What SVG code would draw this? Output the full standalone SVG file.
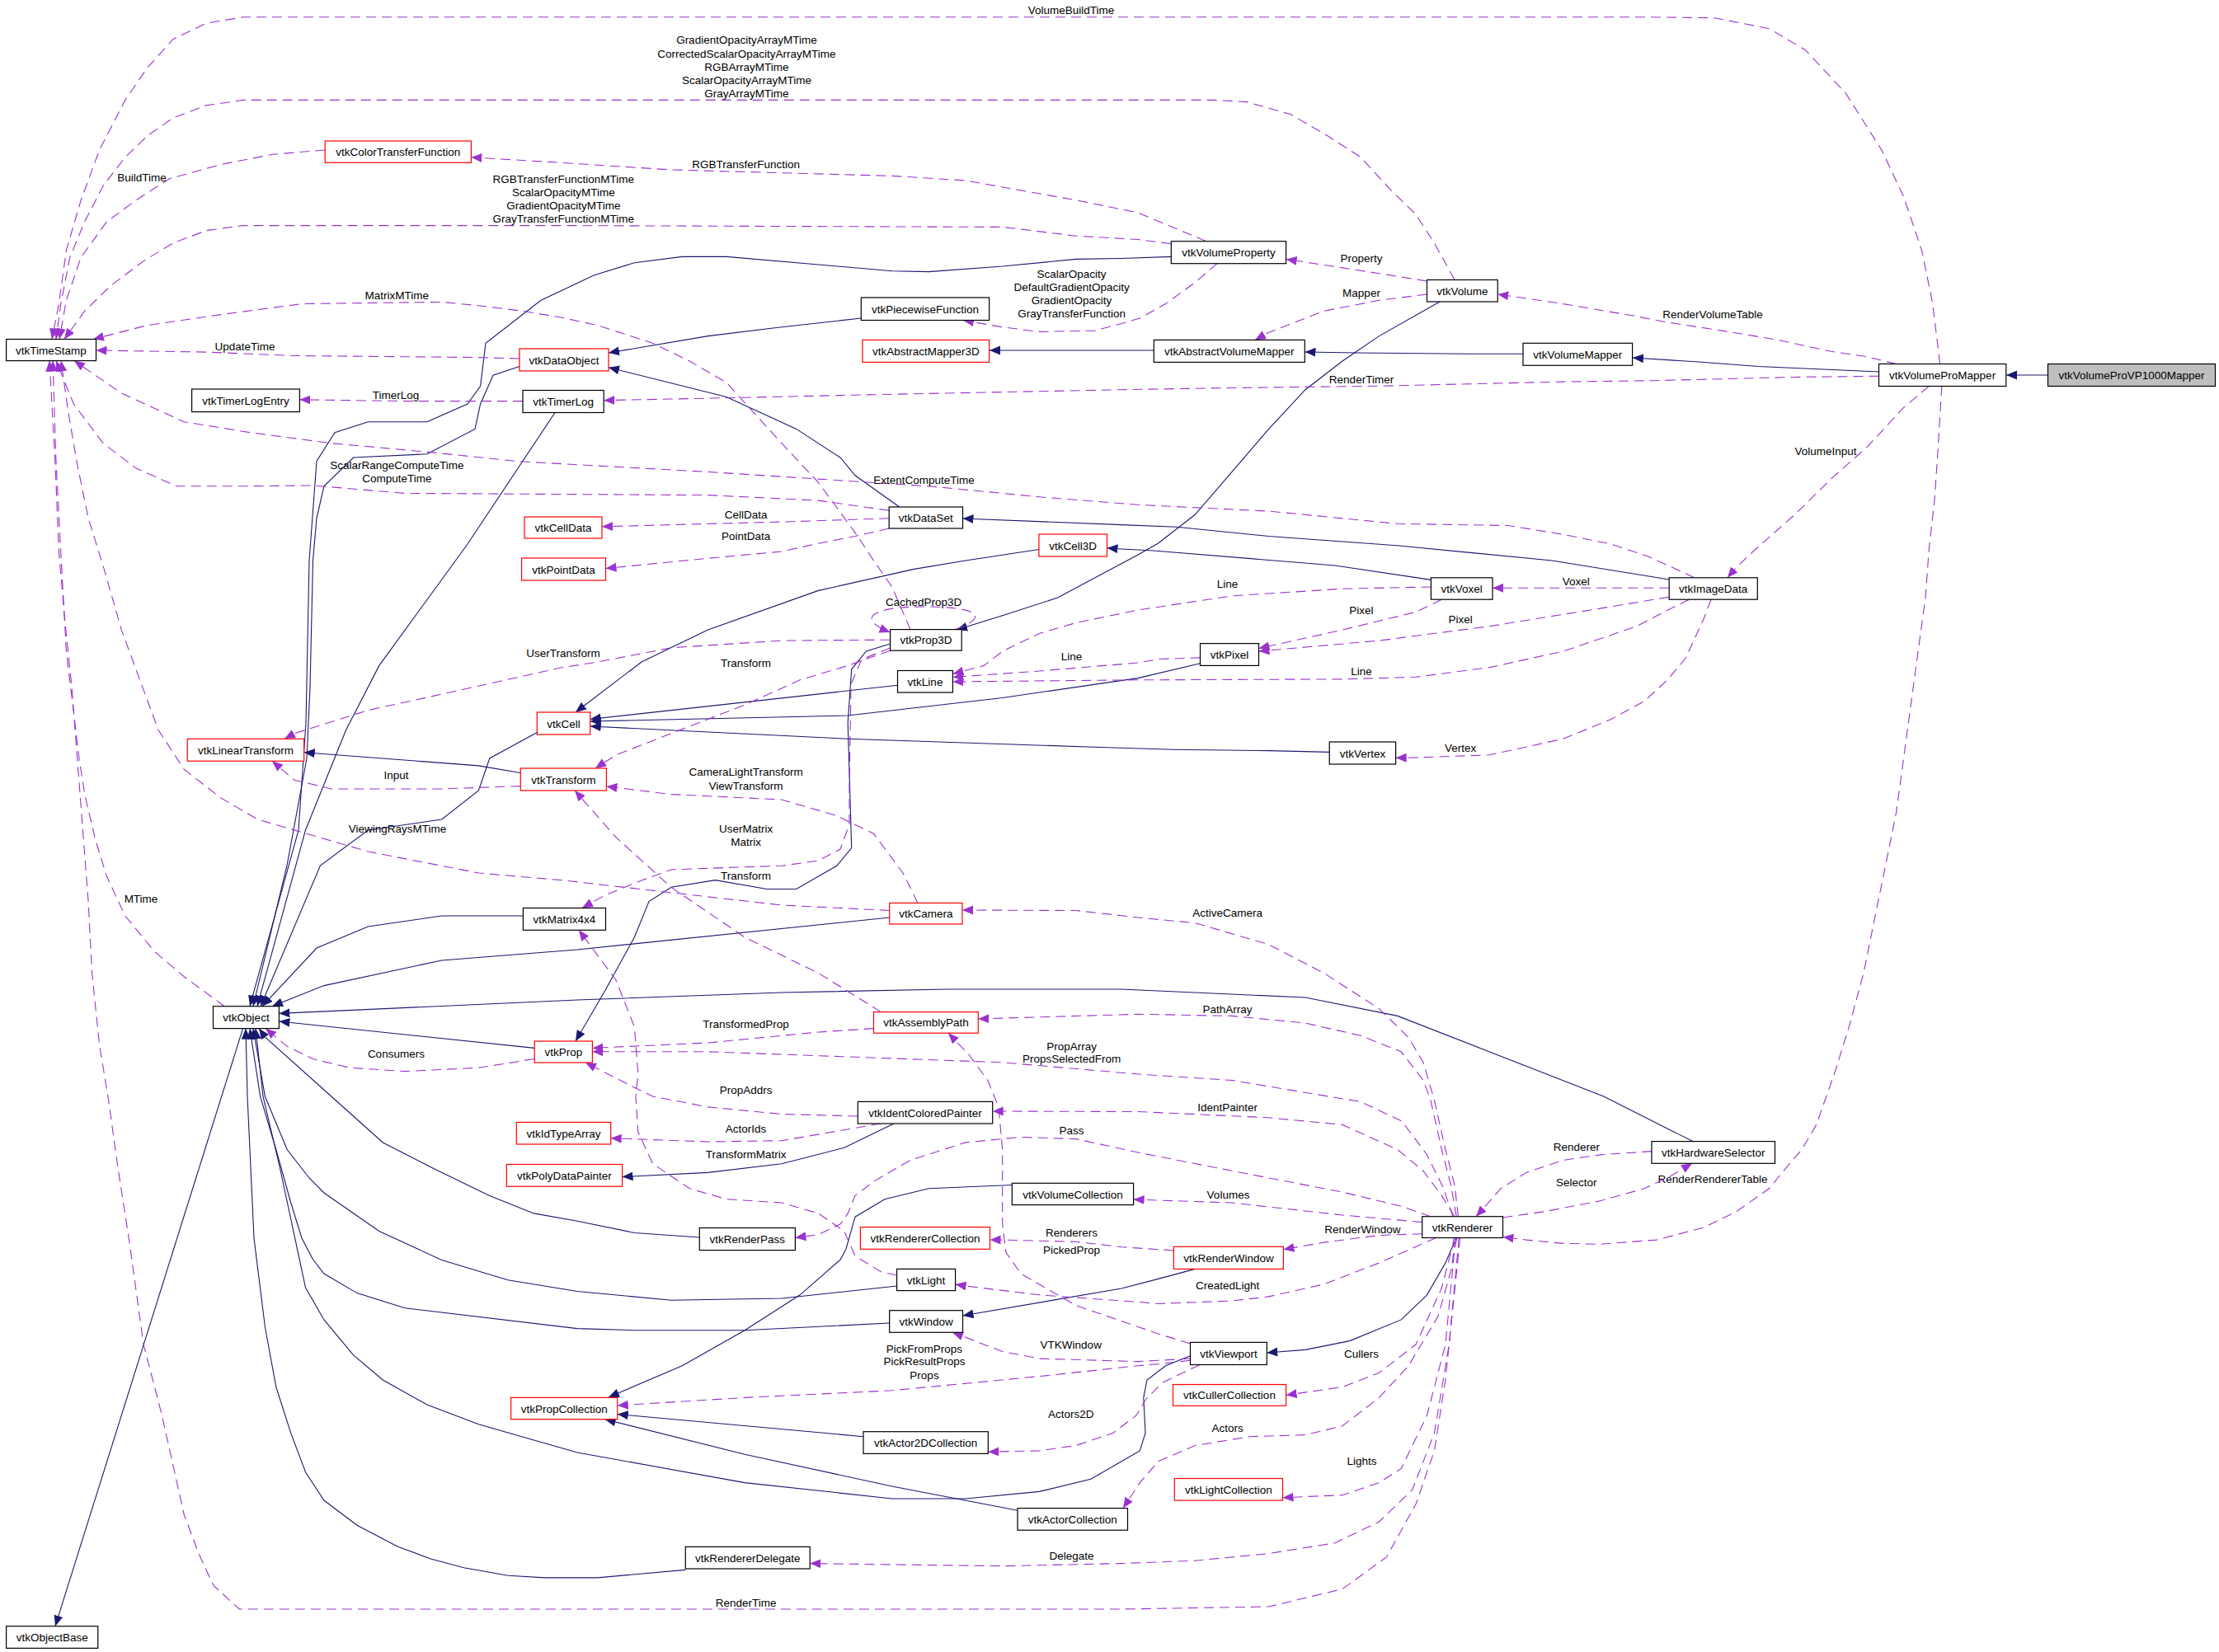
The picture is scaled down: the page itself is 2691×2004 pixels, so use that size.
<svg xmlns="http://www.w3.org/2000/svg" width="2691" height="2004" viewBox="0 0 2691 2004">
<defs>
<style>
.n rect{fill:#fff;stroke:#000;stroke-width:1.2}
.n.r rect{stroke:#f00}
.n.g rect{fill:#bfbfbf}
text{font-family:"Liberation Sans",Arial,Helvetica,sans-serif;font-size:13.5px;fill:#000;text-anchor:middle}
.i{fill:none;stroke:#191970;stroke-width:1.1;marker-end:url(#ai)}
.u{fill:none;stroke:#9a32cd;stroke-width:1.1;stroke-dasharray:12,7;marker-end:url(#au)}
</style>
<marker id="ai" markerUnits="userSpaceOnUse" markerWidth="14" markerHeight="12" refX="13" refY="5.5" orient="auto"><path d="M0,0 L13,5.5 L0,11 Z" fill="#191970"/></marker>
<marker id="au" markerUnits="userSpaceOnUse" markerWidth="14" markerHeight="12" refX="13" refY="5.5" orient="auto"><path d="M0,0 L13,5.5 L0,11 Z" fill="#9a32cd"/></marker>
</defs>
<rect x="0" y="0" width="2691" height="2004" fill="#fff"/>
<g id="edges">
<!-- inheritance -->
<path class="i" d="M2483.5,455 L2433,455"/>
<path class="i" d="M2278.5,451 L2132,444.5 L2060,439 L1980,434"/>
<path class="i" d="M1847,429.3 L1788.6,429.3 L1645.7,428 L1582.5,427"/>
<path class="i" d="M1399.3,425 L1200,425"/>
<path class="i" d="M1746,366 L1672.5,407.6 L1628,438 L1583,472.7 L1538.6,520.4 L1494,572.4 L1449,624.5 L1404.6,659 L1380,673 L1282.7,725 L1215.7,746.7 L1160,764"/>
<path class="i" d="M1420.3,311.4 L1360,313.5 L1305,314.4 L1215.7,323 L1126.4,329.6 L1081.8,328.7 L992.5,321 L881,311.4 L827.3,311.4 L769.3,318.7 L720,334 L680,353 L656,364.3 L589,416.3 L582.6,468.3 L567,490 L517.9,511.7 L446.4,511.7 L406,524.7 L384,559.4 L375,680 L371,876.8 L362,1007 L303,1220.7"/>
<path class="i" d="M630,444.5 L598,455.3 L582.6,490 L576,520.4 L517.9,550.7 L428.6,555 L392.9,589.8 L384,628.8 L379.5,680 L376,833.5 L372,920 L348,1050 L307,1220.7"/>
<path class="i" d="M673,500.5 L567,660 L459.8,807.4 L419.6,885.5 L370.5,1007 L312,1220.7"/>
<path class="i" d="M1044.3,386 L947.9,396.8 L858.6,407.6 L738,428"/>
<path class="i" d="M1090.7,615 L1037,576.8 L1019,555 L965.7,520.4 L880.9,481.4 L738,445.8"/>
<path class="i" d="M2024.2,703 L1882,680 L1697,662 L1538.6,650.5 L1427,639.2 L1360,636.6 L1167.5,629"/>
<path class="i" d="M1735.4,703.4 L1619,686 L1395.7,667.8 L1360,666 L1342.5,664.8"/>
<path class="i" d="M1260,666.5 L1171,680 L1108.6,690.4 L992.5,716.4 L858.6,764 L778,803 L698,864"/>
<path class="i" d="M1088.5,831.3 L715.7,872.5"/>
<path class="i" d="M1455.5,804.8 L1380,822.6 L1215.7,846.5 L1028,868 L715.7,875"/>
<path class="i" d="M1612.2,912.4 L1538.6,910.6 L1422.5,909.3 L1327,906.3 L1028,896.3 L715.7,881"/>
<path class="i" d="M651.3,888.5 L593.75,920 L580.4,959 L535.7,994 L446.4,1007 L388.4,1050 L316,1220.7"/>
<path class="i" d="M1079.6,781 L1050.5,790 L1032.7,811.8 L1028.2,876.8 L1032.7,1028.6 L1014.8,1050.3 L965.7,1078.5 L930,1078.5 L867.5,1067.6 L814,1076.3 L787,1093.6 L769.3,1137 L733.6,1202 L698,1263"/>
<path class="i" d="M631.25,937.5 L580.4,928.9 L368.75,912.8"/>
<path class="i" d="M634.4,1111 L535.7,1111 L446.4,1124 L384,1150 L318,1220.7"/>
<path class="i" d="M1078.7,1113 L700,1152 L535.7,1165 L392.9,1195.6 L330,1220.7"/>
<path class="i" d="M2053,1384.6 L1944.8,1330 L1694.8,1232.4 L1583,1210 L1360,1200 L1148.75,1200 L947.9,1204 L700,1213 L338.4,1229.4"/>
<path class="i" d="M648.2,1271.4 L338.4,1239"/>
<path class="i" d="M1084,1363 L1023.75,1392.3 L947.9,1411.7 L858.6,1422.4 L754.6,1427.6"/>
<path class="i" d="M848.3,1501 L769.3,1495.5 L700,1481.3 L647.3,1471.9 L593.75,1450.4 L526.8,1418 L464.3,1386 L401.8,1330 L321.4,1258 L314,1247.6"/>
<path class="i" d="M1087.6,1560 L947.9,1575 L813.9,1577.2 L700,1566.5 L616,1552.7 L535.7,1528.6 L459.8,1493.4 L392.9,1447 L375,1429 L348.2,1394.5 L321.4,1330 L307,1247.6"/>
<path class="i" d="M1078.7,1605 L903.2,1613.7 L769.3,1613.7 L700,1611.6 L491,1586.7 L433,1568.6 L392.9,1545 L379.5,1527.8 L366,1502 L352.7,1459 L334.8,1394.5 L315.6,1330 L303,1247.6"/>
<path class="i" d="M1449.3,1539.4 L1404.6,1551.4 L1360,1563 L1167.5,1596"/>
<path class="i" d="M1443.5,1644.7 L1413.6,1656.7 L1391,1674 L1386.8,1695.4 L1389,1738.4 L1382.3,1760 L1360,1772.8 L1322.9,1794.3 L1260.4,1809.4 L1171,1818 L1081.8,1818 L903.2,1798.6 L700,1762 L580.4,1727.7 L517.9,1704 L464.3,1674 L428.6,1643.8 L392.9,1600.9 L370.5,1562 L339.3,1416 L319,1330 L310,1247.6"/>
<path class="i" d="M1227.3,1437.5 L1126.4,1441.8 L1072.9,1454.7 L1037,1476.2 L1026,1515 L1019.3,1527.8 L970.2,1570.8 L903.2,1613.7 L827.3,1656.7 L738,1695"/>
<path class="i" d="M1047,1742.7 L748.75,1715.6"/>
<path class="i" d="M1234,1832.2 L1081.8,1803 L903.2,1764.2 L733.6,1721.7"/>
<path class="i" d="M1766.25,1501.5 L1752.9,1532 L1730.5,1570.8 L1699.3,1600.9 L1636.8,1626.6 L1583,1637.4 L1536.3,1641"/>
<path class="i" d="M831.3,1904.4 L724.6,1913.9 L660.7,1913.9 L616,1911.3 L562.5,1901.8 L522.3,1891 L482,1876 L433,1850.2 L392.9,1820 L370.5,1785.7 L352.7,1738.4 L334.8,1682.5 L321.4,1609.5 L308,1502 L300,1330 L298,1247.6"/>
<path class="i" d="M294.6,1247.6 L67,1972.7"/>

<!-- usage -->
<g><path class="u" d="M2352.6,441.5 L2343.8,368.6 L2330.5,303.6 L2308.5,238.5 L2282,182.1 L2238,112.7 L2189.5,60.7 L2145.4,34.7 L2079.3,21.7 L2000,20.8 L294.6,20.8 L250,28.2 L209.8,47.7 L178.6,82.4 L151.8,121.4 L120.5,182.1 L98.2,242.8 L80.4,303.6 L71.4,368.6 L63,411.5"/><text x="1299" y="17.4">VolumeBuildTime</text></g>
<g><path class="u" d="M1764,339.5 L1739.5,294.9 L1717.1,260.2 L1685.9,229.8 L1650.2,190.8 L1610,164.8 L1565.4,138.8 L1511.8,123.6 L1471.6,121.4 L294.6,121.4 L250,127.9 L209.8,143.1 L178.6,164.8 L151.8,190.8 L125,225.5 L102.7,268.9 L84.8,312.2 L73.7,368.6 L68,411.5"/><text x="905.4" y="53.4">GradientOpacityArrayMTime<tspan x="905.4" dy="16.1">CorrectedScalarOpacityArrayMTime</tspan><tspan x="905.4" dy="16.1">RGBArrayMTime</tspan><tspan x="905.4" dy="16.1">ScalarOpacityArrayMTime</tspan><tspan x="905.4" dy="16.1">GrayArrayMTime</tspan></text></g>
<g><path class="u" d="M394.2,182 L330.4,187.3 L267.9,199.5 L205.4,216.8 L165.2,242.8 L129.5,268.9 L98.2,312.2 L80.4,364.3 L72,411.5"/><text x="172" y="219.5">BuildTime</text></g>
<g><path class="u" d="M1462.7,292.7 L1380,258 L1305,242.8 L1171,219 L1081.8,213.4 L813.9,206 L680,197.3 L571.4,190.8"/><text x="904.6" y="204.3">RGBTransferFunction</text></g>
<g><path class="u" d="M1420.3,295.7 L1380,290.5 L1305,286.2 L1215.7,275.4 L680,273.6 L294.6,273.6 L250,279.7 L209.8,294.9 L174.1,316.6 L133.9,346.9 L102.7,377.3 L78,411.5"/><text x="683.3" y="221.6">RGBTransferFunctionMTime<tspan x="683.3" dy="16">ScalarOpacityMTime</tspan><tspan x="683.3" dy="16">GradientOpacityMTime</tspan><tspan x="683.3" dy="16">GrayTransferFunctionMTime</tspan></text></g>
<g><path class="u" d="M1104,763.6 L1081.8,712 L1059.5,680 L1037,646.1 L992.5,585.4 L947.9,537.7 L880.9,464 L836.25,438 L791.6,416.3 L724.6,394.6 L680,385 L634,377.3 L580.4,370.8 L535.7,366.4 L366,368.6 L267.9,381.6 L178.6,394.6 L113,411.5"/><text x="481.3" y="363.4">MatrixMTime</text></g>
<g><path class="u" d="M630,435 L580.4,433.6 L357,431.5 L250,427.1 L116.5,425"/><text x="297" y="425.4">UpdateTime</text></g>
<g><path class="u" d="M2055,700.8 L2000,675.5 L1953.75,660 L1895.7,648.3 L1828.75,637.5 L1694.8,635.3 L1538.6,620.1 L1380,612.3 L1260.4,602.8 L1126.4,589.8 L992.5,581.1 L858.6,572.4 L700,563.7 L625,559.4 L522.3,548.6 L401.8,537.7 L303.6,524.7 L223.2,511.7 L147.3,477 L90,437.6"/><text x="1120.6" y="587.2">ExtentComputeTime</text></g>
<g><path class="u" d="M1078.2,619.3 L992.5,607.1 L858.6,600.6 L491,598.4 L379.5,588.9 L294.6,589.8 L214.3,589.8 L165.2,568.1 L125,537.7 L89.3,490 L68,437.6"/><text x="481.3" y="568.5">ScalarRangeComputeTime<tspan x="481.3" dy="16.3">ComputeTime</tspan></text></g>
<g><path class="u" d="M1078.7,1104.5 L947.9,1098 L813.9,1082.8 L680,1067.6 L580.4,1059 L446.4,1033 L312.5,994 L267.9,968 L223.2,933.2 L192,885.5 L169.6,824.8 L147.3,764.1 L125,686 L107.1,628.8 L93.75,563.7 L82.6,498.7 L74,437.6"/><text x="482" y="1009.5">ViewingRaysMTime</text></g>
<g><path class="u" d="M272.3,1220.7 L223.2,1184.7 L187.5,1154.4 L151.8,1111 L129.5,1063.3 L116,1020 L102.7,963.6 L96,920.2 L89.3,863.8 L80.4,790.1 L73.7,668.7 L68,560 L64,437.6"/><text x="171" y="1095.4">MTime</text></g>
<g><path class="u" d="M1770.7,1501.5 L1761.8,1588 L1752.9,1673.9 L1739.5,1759.9 L1717.1,1824.4 L1681.4,1888.9 L1627.9,1927.6 L1538.6,1949 L1360,1952 L290.2,1952 L258.9,1923.3 L241,1884.6 L223.2,1837.3 L196.4,1716.9 L174.1,1631 L156.25,1502 L142.9,1416 L131.7,1335 L120.5,1267.1 L111.6,1180.4 L107.1,1093.6 L100.4,1006.9 L93.75,920.2 L87,833.5 L78.1,746.7 L71.4,668.7 L67,563.7 L60,437.6"/><text x="904.6" y="1948.8">RenderTime</text></g>
<g><path class="u" d="M634,486.6 L491,486.6 L363.4,484.8"/><text x="480" y="483.8">TimerLog</text></g>
<g><path class="u" d="M2278.5,456.2 L2176.3,457.5 L2088,459.7 L2000,461.8 L1895.7,463.1 L1672.5,468.3 L1494,470.5 L1360,472.7 L1037,479.2 L903.2,482.2 L732.2,485.7"/><text x="1651" y="465.3">RenderTimer</text></g>
<g><path class="u" d="M2299.7,441.5 L2264.4,432.8 L2220.4,426.3 L2154.3,412 L2088.1,401.1 L2017.6,390.3 L1985,383.8 L1895.7,368.6 L1816.25,357"/><text x="2077" y="385.5">RenderVolumeTable</text></g>
<g><path class="u" d="M1730.5,341 L1672.5,331.7 L1559.6,314.4"/><text x="1651" y="317.5">Property</text></g>
<g><path class="u" d="M1730.5,357 L1672.5,364.3 L1605.5,377.3 L1538.6,403.3 L1522,412.4"/><text x="1651" y="360.4">Mapper</text></g>
<g><path class="u" d="M1476,319.6 L1449.3,342.6 L1413.6,368.6 L1382.3,386 L1360,392.5 L1327.3,401.1 L1260.4,402.4 L1215.7,396.8 L1168,388.5"/><text x="1299.6" y="337.4">ScalarOpacity<tspan x="1299.6" dy="16">DefaultGradientOpacity</tspan><tspan x="1299.6" dy="16">GradientOpacity</tspan><tspan x="1299.6" dy="16">GrayTransferFunction</tspan></text></g>
<g><path class="u" d="M2339.4,468.3 L2308.5,494.4 L2264.4,542.1 L2220.4,581.1 L2176.3,624.5 L2127,668 L2105.8,688.2 L2094.8,700.8"/><text x="2214" y="551.8">VolumeInput</text></g>
<g><path class="u" d="M2354.8,468.3 L2350.4,542.1 L2346,607.1 L2339.4,665 L2335,725 L2326.1,790.1 L2317.3,855.1 L2308.5,920.2 L2299.7,985.2 L2286.5,1050.3 L2273.2,1115.3 L2260,1180.4 L2242.4,1245.4 L2224.8,1301.8 L2213.7,1333 L2202.7,1364.4 L2185.1,1394.5 L2163,1420.3 L2145.4,1441.8 L2105.8,1469.7 L2066.1,1489.1 L2008.8,1504.1 L1940.4,1509.3 L1895.7,1508.4 L1851,1504.1 L1822.5,1500.5"/><text x="2077" y="1435.4">RenderRendererTable</text></g>
<g><path class="u" d="M2003.3,1396.6 L1940.4,1400.9 L1895.7,1407.4 L1851,1422.4 L1819.8,1441.8 L1797.5,1467.6 L1790,1475.7"/><text x="1911.8" y="1396.3">Renderer</text></g>
<g><path class="u" d="M1822.5,1477 L1873.4,1469.7 L1940.4,1456.8 L1994,1441.8 L2026,1426.7 L2052,1411.3"/><text x="1911.8" y="1439.3">Selector</text></g>
<g><path class="u" d="M1768.5,1475.7 L1764,1437.5 L1752.9,1394.5 L1739.5,1335 L1726,1288.8 L1708,1258.4 L1672.5,1223.7 L1605.5,1180.4 L1538.6,1145.7 L1449.3,1119.7 L1380,1113 L1305,1104.5 L1167,1104"/><text x="1488.6" y="1112.3">ActiveCamera</text></g>
<g><path class="u" d="M1766.25,1475.7 L1759.5,1437.5 L1748.4,1394.5 L1735,1335 L1726,1310.5 L1699.3,1275.8 L1650.2,1256.3 L1583.2,1241.1 L1493.9,1232.4 L1380,1230.3 L1186.25,1236"/><text x="1488.6" y="1228.5">PathArray</text></g>
<g><path class="u" d="M1762,1475.7 L1750,1440 L1730,1400 L1700,1360 L1650.2,1336.5 L1493.9,1310.5 L1380,1303 L1215.7,1288.8 L1037,1282.3 L858.6,1275.8 L718.4,1275.8"/><text x="1299.6" y="1273.6">PropArray<tspan x="1299.6" dy="15.7">PropsSelectedFrom</tspan></text></g>
<g><path class="u" d="M1059.5,1247.6 L992.5,1252 L858.6,1265 L718.4,1271.4"/><text x="904.6" y="1247.2">TransformedProp</text></g>
<g><path class="u" d="M1764,1475.7 L1748.4,1450.4 L1726,1420.3 L1694.8,1394.5 L1627.9,1364.4 L1538.6,1355.8 L1380,1348.5 L1203.7,1348"/><text x="1488.6" y="1347.7">IdentPainter</text></g>
<g><path class="u" d="M1735,1475.7 L1699.3,1463.3 L1627.9,1446.1 L1493.9,1420.3 L1380,1398 L1305,1381.6 L1238,1379.4 L1171,1385.9 L1104,1407.4 L1059.5,1433.2 L1037,1450.4 L1028.2,1471.9 L1019.3,1484.8 L992.5,1497.7 L964.4,1501.5"/><text x="1299.6" y="1375.6">Pass</text></g>
<g><path class="u" d="M1724.7,1482.6 L1627.9,1474 L1493.9,1459 L1374.6,1455"/><text x="1489.5" y="1453.5">Volumes</text></g>
<g><path class="u" d="M1724.7,1496.8 L1672.5,1498.5 L1605.5,1507.1 L1556.4,1515.7"/><text x="1652.4" y="1495.6">RenderWindow</text></g>
<g><path class="u" d="M1423.4,1517 L1404.6,1515.7 L1360,1512.7 L1305,1506.3 L1215.7,1504.1 L1200.5,1504.1"/><text x="1299.6" y="1500.3">Renderers</text></g>
<g><path class="u" d="M1443.5,1630 L1404.6,1618 L1380,1609.4 L1305,1583.7 L1238,1545 L1220,1519.2 L1215.7,1484.8 L1215.7,1394.5 L1211,1343 L1197.9,1310.5 L1175.5,1280 L1150,1253.2"/><text x="1299.6" y="1521.4">PickedProp</text></g>
<g><path class="u" d="M1741.7,1501.5 L1672.5,1532 L1605.5,1557.9 L1538.6,1572.9 L1493.9,1578 L1404.6,1581.5 L1380,1579.4 L1260.4,1570.8 L1171,1560 L1158.6,1558"/><text x="1488.6" y="1563.5">CreatedLight</text></g>
<g><path class="u" d="M1443.5,1648 L1404.6,1650.3 L1380,1651.6 L1260.4,1648.1 L1215.7,1639.5 L1171,1622.3 L1155,1616.3"/><text x="1298.75" y="1635.8">VTKWindow</text></g>
<g><path class="u" d="M1443.5,1650.3 L1404.6,1654.6 L1380,1656.7 L1260.4,1669.6 L1081.8,1686.8 L903.2,1695.4 L748.75,1705"/><text x="1121" y="1640.5">PickFromProps<tspan x="1121" dy="15.9">PickResultProps</tspan><tspan x="1121" dy="16.4">Props</tspan></text></g>
<g><path class="u" d="M1455,1655.5 L1410,1677 L1390,1697 L1378,1717 L1349.6,1738.4 L1305,1753.5 L1260.4,1759.9 L1198.3,1761.2"/><text x="1298.75" y="1719.6">Actors2D</text></g>
<g><path class="u" d="M1765,1501.5 L1760,1540 L1744,1596.6 L1708.2,1656.7 L1672.5,1695.4 L1627.9,1729.8 L1583.2,1740.6 L1516.25,1742.7 L1449.3,1753.5 L1404.6,1772.8 L1382.3,1798.6 L1362,1829.6"/><text x="1488.6" y="1736.8">Actors</text></g>
<g><path class="u" d="M1763,1501.5 L1761.8,1510.6 L1748.4,1562.2 L1717.1,1631 L1672.5,1665.3 L1627.9,1682.5 L1559.6,1692.4"/><text x="1651" y="1647.4">Cullers</text></g>
<g><path class="u" d="M1767,1501.5 L1764,1514.9 L1752.9,1631 L1730.5,1717 L1699.3,1781.4 L1672.5,1798.6 L1627.9,1813.7 L1555.5,1816.7"/><text x="1651.5" y="1776.8">Lights</text></g>
<g><path class="u" d="M1769,1501.5 L1768.5,1510.6 L1757.3,1631 L1739.5,1738.4 L1712.7,1807.2 L1672.5,1846 L1618.9,1871.7 L1538.6,1884.6 L1449.3,1893.2 L1360,1896.6 L1215.7,1899.7 L982.2,1896.6"/><text x="1299.6" y="1891.5">Delegate</text></g>
<g><path class="u" d="M1040.3,1354 L947.9,1351.5 L858.6,1342.9 L791.6,1330 L769.3,1319.2 L710,1289"/><text x="904.6" y="1327.4">PropAddrs</text></g>
<g><path class="u" d="M1068.4,1363 L947.9,1383.7 L858.6,1385 L740.7,1380.7"/><text x="904.6" y="1373.5">ActorIds</text></g>
<g><path class="u" d="M1087.6,1547 L1068.4,1542.8 L1037,1523.5 L1023.75,1493.4 L992.5,1472 L947.9,1459 L881,1454.7 L836.25,1441.8 L791.6,1411.7 L773.75,1373 L771,1330 L773.75,1301.8 L769.3,1245.4 L747,1189 L724.6,1158.7 L702,1128.3"/><text x="904.6" y="1405.3">TransformMatrix</text></g>
<g><path class="u" d="M1079.6,789.2 L1028.2,807.4 L970.2,824.8 L903.2,855.1 L813.9,889.8 L747,915.8 L722,932"/><text x="904.6" y="809.2">Transform</text></g>
<g><path class="u" d="M1079.6,776.2 L947.9,777.1 L813.9,785.8 L724.6,803.1 L680,810 L535.7,842.1 L446.4,861.6 L357,889.8 L345,896.3"/><text x="683" y="796.6">UserTransform</text></g>
<g><path class="u" d="M631.25,953.6 L535.7,957 L401.8,957 L357,946.2 L330,923.2"/><text x="480.4" y="944.5">Input</text></g>
<g><path class="u" d="M1113,1095.4 L1095,1059 L1059.5,1011.3 L1014.8,989.6 L947.9,970 L858.6,965.7 L813.9,963.6 L735.4,954"/><text x="904.6" y="940.8">CameraLightTransform<tspan x="904.6" dy="16.7">ViewTransform</tspan></text></g>
<g><path class="u" d="M1079.6,786 L1045,800 L1032,830 L1030,950 L1030,1000 L1019,1030 L992.5,1044 L947.9,1050.3 L881,1052.5 L813.9,1055 L778,1068 L733.6,1086 L706,1101.5"/><text x="904.6" y="1009.5">UserMatrix<tspan x="904.6" dy="16.1">Matrix</tspan></text></g>
<g><path class="u" d="M1068.4,1227.6 L992.5,1180.4 L903.2,1137 L813.9,1076.3 L747,1015.6 L697,959"/><text x="904.6" y="1067.2">Transform</text></g>
<g><path class="u" d="M648.2,1284.5 L580.4,1295.3 L491,1299.6 L424.1,1295.3 L379.5,1284.5 L348.2,1269.3 L322,1247.6"/><text x="480.4" y="1283.2">Consumers</text></g>
<g><path class="u" d="M1078.2,628.8 L947.9,633.1 L813.9,636.6 L730,638.8"/><text x="904.6" y="629.3">CellData</text></g>
<g><path class="u" d="M1078.2,641 L1037,650.5 L992.5,659.2 L947.9,669 L858.6,677.3 L734.5,689.5"/><text x="904.6" y="655.3">PointData</text></g>
<g><path class="u" d="M1735.4,712 L1627.9,714.2 L1493.9,722.9 L1380,740 L1305,755.4 L1260.4,768.4 L1215.7,790.1 L1193.4,807.4 L1155.4,817.5"/><text x="1488.6" y="713.4">Line</text></g>
<g><path class="u" d="M1455.5,797.9 L1404.6,799.6 L1380,804 L1260.4,814 L1155.4,821.5"/><text x="1299.6" y="801.4">Line</text></g>
<g><path class="u" d="M2048.5,727.2 L2022,740.2 L1985,759.7 L1895.7,790.1 L1806.4,809.6 L1717.1,821.3 L1627.9,823.9 L1380,824.8 L1155.4,827"/><text x="1651" y="819.2">Line</text></g>
<g><path class="u" d="M1748.4,727.2 L1717.1,742.4 L1672.5,753.2 L1627.9,764.1 L1526.5,786.6"/><text x="1651" y="744.6">Pixel</text></g>
<g><path class="u" d="M2024.2,724.2 L1940.4,738.1 L1806.4,759.7 L1672.5,777.1 L1526.5,790.1"/><text x="1771.2" y="756.3">Pixel</text></g>
<g><path class="u" d="M2024.2,713.3 L1810,713.3"/><text x="1911.3" y="709.5">Voxel</text></g>
<g><path class="u" d="M2075,727.2 L2066,751 L2044,798.8 L2022,824.8 L1993.9,850.8 L1953.75,872.5 L1895.7,896.3 L1806.4,915.8 L1708.2,919.3 L1692.6,919.3"/><text x="1771.2" y="912.4">Vertex</text></g>
<g><path class="u" d="M1158,763.6 C1198,750 1192,736 1120,736 C1052,736 1040,752 1079.6,767"/><text x="1120.2" y="734.8">CachedProp3D</text></g>
</g>
<g id="node-vtkVolumeProVP1000Mapper" class="n g"><rect x="2483.5" y="441.5" width="203" height="27"/><text x="2585" y="460">vtkVolumeProVP1000Mapper</text></g>
<g id="node-vtkVolumeProMapper" class="n"><rect x="2278.5" y="441.5" width="154.3" height="27"/><text x="2355.6" y="460">vtkVolumeProMapper</text></g>
<g id="node-vtkVolumeMapper" class="n"><rect x="1847" y="416.3" width="132.6" height="27"/><text x="1913.3" y="434.8">vtkVolumeMapper</text></g>
<g id="node-vtkAbstractVolumeMapper" class="n"><rect x="1399.3" y="412.4" width="183" height="27"/><text x="1490.8" y="430.9">vtkAbstractVolumeMapper</text></g>
<g id="node-vtkAbstractMapper3D" class="n r"><rect x="1046" y="412.4" width="153.6" height="27"/><text x="1122.8" y="430.9">vtkAbstractMapper3D</text></g>
<g id="node-vtkVolume" class="n"><rect x="1730.5" y="339.5" width="85.75" height="26.5"/><text x="1773.4" y="357.8">vtkVolume</text></g>
<g id="node-vtkVolumeProperty" class="n"><rect x="1420.3" y="292.7" width="139.3" height="27"/><text x="1490" y="311.2">vtkVolumeProperty</text></g>
<g id="node-vtkPiecewiseFunction" class="n"><rect x="1044.3" y="361" width="155.3" height="27.5"/><text x="1122" y="379.5">vtkPiecewiseFunction</text></g>
<g id="node-vtkColorTransferFunction" class="n r"><rect x="394.2" y="171" width="177.2" height="26.3"/><text x="482.8" y="189.2">vtkColorTransferFunction</text></g>
<g id="node-vtkTimeStamp" class="n"><rect x="7.6" y="411.5" width="108.9" height="26.1"/><text x="62" y="429.6">vtkTimeStamp</text></g>
<g id="node-vtkTimerLogEntry" class="n"><rect x="232.6" y="472" width="130.8" height="27.6"/><text x="298" y="490.6">vtkTimerLogEntry</text></g>
<g id="node-vtkDataObject" class="n r"><rect x="630" y="423" width="108" height="27"/><text x="684" y="441.5">vtkDataObject</text></g>
<g id="node-vtkTimerLog" class="n"><rect x="634" y="473.5" width="98.2" height="27"/><text x="683.1" y="492">vtkTimerLog</text></g>
<g id="node-vtkCellData" class="n r"><rect x="636" y="627" width="94" height="26"/><text x="683" y="645">vtkCellData</text></g>
<g id="node-vtkPointData" class="n r"><rect x="632.6" y="677" width="101.9" height="27"/><text x="683.5" y="695.5">vtkPointData</text></g>
<g id="node-vtkDataSet" class="n"><rect x="1078.2" y="615" width="89.3" height="26"/><text x="1122.8" y="633">vtkDataSet</text></g>
<g id="node-vtkCell3D" class="n r"><rect x="1259.9" y="648" width="82.6" height="27"/><text x="1301.2" y="666.5">vtkCell3D</text></g>
<g id="node-vtkVoxel" class="n"><rect x="1735.4" y="700.8" width="74.6" height="26.4"/><text x="1772.7" y="719">vtkVoxel</text></g>
<g id="node-vtkImageData" class="n"><rect x="2024.2" y="700.8" width="107.1" height="26.4"/><text x="2077.7" y="719">vtkImageData</text></g>
<g id="node-vtkProp3D" class="n"><rect x="1079.6" y="763.6" width="86.6" height="25.6"/><text x="1122.9" y="781.4">vtkProp3D</text></g>
<g id="node-vtkLine" class="n"><rect x="1088.5" y="813.5" width="66.9" height="26.5"/><text x="1122" y="831.8">vtkLine</text></g>
<g id="node-vtkPixel" class="n"><rect x="1455.5" y="780.6" width="71" height="26.8"/><text x="1491" y="799">vtkPixel</text></g>
<g id="node-vtkCell" class="n r"><rect x="651.3" y="864" width="64.4" height="27"/><text x="683.5" y="882.5">vtkCell</text></g>
<g id="node-vtkLinearTransform" class="n r"><rect x="227.2" y="896.3" width="141.5" height="26.9"/><text x="298" y="914.8">vtkLinearTransform</text></g>
<g id="node-vtkTransform" class="n r"><rect x="631.25" y="932" width="104.2" height="27"/><text x="683.35" y="950.5">vtkTransform</text></g>
<g id="node-vtkVertex" class="n"><rect x="1612.2" y="900" width="80.4" height="27"/><text x="1652.4" y="918.5">vtkVertex</text></g>
<g id="node-vtkMatrix4x4" class="n"><rect x="634.4" y="1101.5" width="100.1" height="26.8"/><text x="684.5" y="1120">vtkMatrix4x4</text></g>
<g id="node-vtkCamera" class="n r"><rect x="1078.7" y="1095.4" width="88.3" height="25.6"/><text x="1122.9" y="1113.2">vtkCamera</text></g>
<g id="node-vtkObject" class="n"><rect x="258.5" y="1220.7" width="79.9" height="26.9"/><text x="298.5" y="1239.2">vtkObject</text></g>
<g id="node-vtkAssemblyPath" class="n r"><rect x="1059.5" y="1227.6" width="126.75" height="25.6"/><text x="1122.9" y="1245.4">vtkAssemblyPath</text></g>
<g id="node-vtkProp" class="n r"><rect x="648.2" y="1263" width="70.2" height="26"/><text x="683.3" y="1281">vtkProp</text></g>
<g id="node-vtkIdentColoredPainter" class="n"><rect x="1040.3" y="1336.4" width="163.4" height="26.6"/><text x="1122" y="1354.7">vtkIdentColoredPainter</text></g>
<g id="node-vtkIdTypeArray" class="n r"><rect x="626.3" y="1361.4" width="114.4" height="26.6"/><text x="683.5" y="1379.7">vtkIdTypeArray</text></g>
<g id="node-vtkHardwareSelector" class="n"><rect x="2003" y="1384.6" width="149.5" height="26.7"/><text x="2077.75" y="1402.9">vtkHardwareSelector</text></g>
<g id="node-vtkPolyDataPainter" class="n r"><rect x="614.3" y="1412.5" width="140.3" height="26.7"/><text x="684.45" y="1430.8">vtkPolyDataPainter</text></g>
<g id="node-vtkVolumeCollection" class="n"><rect x="1227.3" y="1435.3" width="147.3" height="26.3"/><text x="1301" y="1453.5">vtkVolumeCollection</text></g>
<g id="node-vtkRenderer" class="n"><rect x="1724.7" y="1475.7" width="97.8" height="25.8"/><text x="1773.6" y="1493.6">vtkRenderer</text></g>
<g id="node-vtkRendererCollection" class="n r"><rect x="1043.4" y="1488.6" width="157.1" height="26.7"/><text x="1122" y="1506.9">vtkRendererCollection</text></g>
<g id="node-vtkRenderPass" class="n"><rect x="848.3" y="1489.5" width="116.1" height="27.1"/><text x="906.35" y="1508">vtkRenderPass</text></g>
<g id="node-vtkRenderWindow" class="n r"><rect x="1423.4" y="1512.3" width="133" height="27.1"/><text x="1489.9" y="1530.8">vtkRenderWindow</text></g>
<g id="node-vtkLight" class="n"><rect x="1087.6" y="1539.4" width="71" height="26.2"/><text x="1123.1" y="1557.5">vtkLight</text></g>
<g id="node-vtkWindow" class="n"><rect x="1078.7" y="1589.7" width="88.8" height="26.6"/><text x="1123.1" y="1608">vtkWindow</text></g>
<g id="node-vtkViewport" class="n"><rect x="1443.5" y="1628.4" width="92.8" height="27.1"/><text x="1489.9" y="1646.9">vtkViewport</text></g>
<g id="node-vtkCullerCollection" class="n r"><rect x="1422.5" y="1679.5" width="137.1" height="25.8"/><text x="1491" y="1697.4">vtkCullerCollection</text></g>
<g id="node-vtkPropCollection" class="n r"><rect x="619.6" y="1695.4" width="129.15" height="26.3"/><text x="684.2" y="1713.6">vtkPropCollection</text></g>
<g id="node-vtkActor2DCollection" class="n"><rect x="1047" y="1736.7" width="151.3" height="26.7"/><text x="1122.65" y="1755">vtkActor2DCollection</text></g>
<g id="node-vtkLightCollection" class="n r"><rect x="1424.3" y="1793.5" width="131.2" height="26.6"/><text x="1489.9" y="1811.8">vtkLightCollection</text></g>
<g id="node-vtkActorCollection" class="n"><rect x="1234" y="1829.6" width="133.5" height="26.6"/><text x="1300.75" y="1847.9">vtkActorCollection</text></g>
<g id="node-vtkRendererDelegate" class="n"><rect x="831.3" y="1876.4" width="150.9" height="26.6"/><text x="906.75" y="1894.7">vtkRendererDelegate</text></g>
<g id="node-vtkObjectBase" class="n"><rect x="7.6" y="1972.7" width="111.15" height="26.7"/><text x="63.2" y="1991">vtkObjectBase</text></g>
</svg>
